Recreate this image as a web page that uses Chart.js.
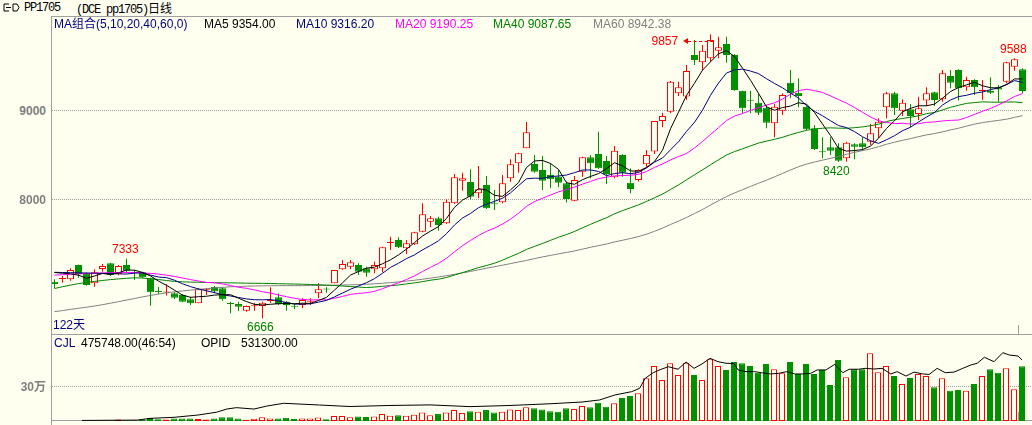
<!DOCTYPE html>
<html><head><meta charset="utf-8">
<script src="https://cdn.jsdelivr.net/npm/chart.js@4.4.0/dist/chart.umd.min.js"></script>
<style>
html,body{margin:0;padding:0;background:#FFFFF0;}
body{width:1032px;height:425px;overflow:hidden;position:relative;font-family:"Liberation Sans","Noto Sans CJK SC",Arial,sans-serif;}
canvas{position:absolute;}
.t{position:absolute;white-space:nowrap;font-size:12px;line-height:14px;}
.ln{position:absolute;background:#A0A0A0;}
.ax{color:#808080;font-weight:bold;text-align:right;width:46px;left:0;}
</style></head><body>
<svg style="position:absolute;left:2px;top:3px" width="18" height="10" viewBox="0 0 18 10"><path d="M7 1 H2 V8 H7 M4 4.5 H9 M11 1 H15 L17 4.5 L15 8 H11 Z" fill="none" stroke="#000" stroke-width="1"/></svg>
<div class="t" style="left:24px;top:1px;font-family:'Liberation Mono',monospace;letter-spacing:-1.2px;">PP1705</div>
<div class="t" style="left:76px;top:1px;font-family:'Liberation Mono',monospace;letter-spacing:-1.2px;">(DCE pp1705)<span style="font-family:'Noto Sans CJK SC';letter-spacing:0">日线</span></div>

<div class="ln" style="left:51px;top:16px;width:981px;height:1px"></div>
<div class="ln" style="left:51px;top:16px;width:1px;height:409px"></div>
<div class="ln" style="left:51px;top:334px;width:981px;height:1px"></div>
<div class="ln" style="left:51px;top:420px;width:981px;height:1px"></div>
<div class="ln" style="left:1018px;top:325px;width:1px;height:9px"></div>
<div class="ln" style="left:1018px;top:412px;width:1px;height:8px"></div>

<canvas id="price" width="980" height="317" style="left:52px;top:17px;width:980px;height:317px"></canvas>
<canvas id="vol" width="980" height="86" style="left:52px;top:335px;width:980px;height:86px"></canvas>

<div class="t" style="left:54px;top:17px;color:#000080">MA组合(5,10,20,40,60,0)</div>
<div class="t" style="left:204px;top:17px;color:#000000">MA5 9354.00</div>
<div class="t" style="left:296px;top:17px;color:#000080">MA10 9316.20</div>
<div class="t" style="left:395px;top:17px;color:#FF00FF">MA20 9190.25</div>
<div class="t" style="left:493px;top:17px;color:#008000">MA40 9087.65</div>
<div class="t" style="left:593px;top:17px;color:#808080">MA60 8942.38</div>

<div class="t" style="left:54px;top:336px;color:#000080">CJL</div>
<div class="t" style="left:81px;top:336px;color:#000">475748.00(46:54)</div>
<div class="t" style="left:201px;top:336px;color:#000">OPID</div>
<div class="t" style="left:241px;top:336px;color:#000">531300.00</div>

<div class="t ax" style="top:104px">9000</div>
<div class="t ax" style="top:193px">8000</div>
<div class="t ax" style="top:380px">30万</div>
<div class="t" style="left:53px;top:318px;color:#000080">122天</div>

<div class="t" id="m0" style="color:#FF0000"></div>
<div class="t" id="m1" style="color:#008000"></div>
<div class="t" id="m2" style="color:#FF0000"></div>
<div class="t" id="m3" style="color:#008000"></div>
<div class="t" id="m4" style="color:#FF0000"></div>
<div id="arrHead" style="position:absolute;width:0;height:0;border-top:3px solid transparent;border-bottom:3px solid transparent;border-right:5px solid #FF0000;"></div>
<div id="arrLine" style="position:absolute;height:0;border-top:1px dashed #FF0000;"></div>

<script>
// ---------------- data ----------------
const openP = [7077,7108,7103,7264,7170,7058,7219,7283,7159,7264,
7180,7182,7114,6970,6955,6946,6927,6878,6833,6980,
7021,7002,6835,6826,6751,6800,6803,6860,6901,6852,
6805,6815,6850,6946,6993,7058,7215,7245,7264,7227,
7215,7227,7510,7545,7451,7496,7639,7751,7788,7732,
7957,8212,8197,8069,8163,7953,7968,8238,8406,8575,
8399,8332,8275,8257,8182,7987,8313,8474,8511,8433,
8249,8500,8189,8219,8395,8538,8882,8987,9193,9156,
9624,9541,9586,9672,9747,9624,9223,9115,9088,9032,
8856,8998,9313,9200,9043,8800,8536,8586,8586,8463,
8620,8631,8650,8800,9036,9193,8998,9013,8961,9111,
9204,9126,9388,9455,9260,9343,9218,9223,9260,9324,
9493,9463];
const highP = [7103,7141,7227,7270,7182,7215,7275,7290,7264,7333,
7208,7189,7122,7021,7047,6957,6938,6908,7002,7002,
7028,7013,6852,6852,6810,6841,6850,7013,6946,6860,
6826,6890,6890,7058,7013,7208,7320,7320,7283,7245,
7302,7470,7582,7575,7545,7639,7957,7815,7807,8002,
8286,8301,8339,8376,8264,8107,8275,8451,8526,8871,
8500,8489,8406,8332,8201,8264,8481,8500,8762,8489,
8601,8508,8350,8339,8556,8882,8976,9332,9324,9511,
9792,9736,9857,9830,9830,9635,9223,9223,9193,9062,
9073,9193,9455,9361,9051,8837,8699,8699,8631,8650,
8631,8699,8848,8912,9212,9212,9126,9073,9155,9260,
9212,9455,9455,9463,9380,9350,9343,9373,9287,9549,
9588,9474];
const lowP = [7002,7066,7088,7122,7032,7021,7189,7141,7148,7170,
7096,7114,6807,6938,6920,6882,6845,6815,6833,6927,
6946,6863,6721,6747,6740,6751,6666,6841,6815,6751,
6766,6777,6815,6890,6953,7058,7210,7215,7152,7133,
7170,7182,7433,7455,7388,7489,7631,7687,7650,7725,
7949,8099,8002,8013,7893,7882,7957,8200,8301,8575,
8301,8107,8126,8137,7965,7980,8257,8238,8343,8174,
8238,8257,8069,8201,8369,8511,8811,8968,9163,9118,
9511,9448,9549,9586,9537,9223,8968,8968,8950,8800,
8699,8950,9137,9036,8781,8556,8463,8500,8420,8425,
8451,8549,8612,8687,8912,8950,8938,8811,8893,9051,
9051,9099,9249,9111,9223,9174,9118,9185,9099,9305,
9448,9193];
const closeP = [7051,7114,7208,7163,7039,7182,7253,7152,7253,7200,
7170,7126,6957,6960,6965,6897,6852,6833,6991,6990,
6965,6878,6825,6796,6803,6808,6841,6866,6826,6815,
6796,6871,6855,6991,6988,7208,7275,7294,7189,7178,
7264,7463,7515,7463,7508,7631,7833,7788,7714,7976,
8249,8238,8032,8114,7901,7948,8182,8395,8519,8755,
8313,8212,8227,8189,8006,8219,8474,8406,8350,8287,
8549,8302,8118,8332,8500,8882,8938,9324,9260,9444,
9567,9672,9792,9710,9624,9230,9024,9110,8976,8863,
9043,9174,9193,9163,8788,8567,8530,8549,8436,8639,
8594,8586,8744,8875,9193,9024,9088,8938,9024,9193,
9118,9418,9313,9249,9343,9260,9226,9200,9235,9541,
9575,9220];

const ma5 = [7180,7172,7165,7150,7115,7141,7169,7158,7176,7208,
7206,7180,7141,7083,7036,6981,6926,6901,6908,6913,
6926,6931,6930,6891,6853,6822,6815,6823,6829,6831,
6829,6835,6833,6866,6900,6983,7063,7151,7191,7229,
7240,7278,7322,7377,7443,7516,7590,7645,7695,7788,
7912,7993,8042,8122,8107,8047,8035,8108,8189,8360,
8433,8439,8405,8339,8189,8171,8223,8259,8291,8347,
8413,8379,8321,8318,8360,8427,8554,8795,8981,9170,
9307,9453,9547,9637,9673,9606,9476,9340,9193,9041,
9003,9033,9050,9087,9072,8977,8848,8719,8574,8544,
8550,8561,8600,8688,8798,8884,8985,9024,9053,9053,
9072,9138,9213,9258,9288,9317,9278,9256,9253,9292,
9355,9354];
const ma10 = [7182,7180,7178,7176,7174,7172,7170,7168,7165,7162,
7173,7175,7150,7129,7122,7093,7053,7021,6995,6974,
6954,6929,6916,6899,6883,6874,6873,6876,6860,6842,
6825,6825,6828,6847,6866,6906,6949,6992,7028,7065,
7111,7171,7237,7284,7336,7378,7434,7483,7536,7616,
7714,7792,7843,7908,7948,7979,8014,8075,8155,8233,
8240,8237,8257,8264,8275,8302,8331,8332,8315,8268,
8292,8301,8290,8304,8354,8420,8466,8558,8649,8765,
8867,9004,9171,9309,9421,9456,9465,9443,9415,9357,
9304,9255,9195,9140,9056,8990,8941,8885,8831,8808,
8763,8705,8660,8631,8671,8717,8773,8812,8871,8926,
8978,9062,9118,9156,9171,9194,9208,9234,9256,9290,
9336,9316];
const ma20 = [7150,7155,7160,7164,7168,7172,7175,7178,7180,7181,
7180,7176,7170,7162,7150,7135,7118,7100,7084,7068,
7064,7052,7033,7014,7002,6984,6963,6949,6927,6908,
6890,6877,6872,6873,6874,6890,6911,6934,6944,6953,
6968,6998,7032,7065,7101,7142,7191,7238,7282,7340,
7413,7481,7540,7596,7642,7679,7724,7779,7846,7924,
7977,8014,8050,8086,8111,8141,8173,8203,8235,8251,
8266,8269,8273,8284,8314,8361,8399,8445,8482,8517,
8579,8652,8731,8807,8888,8938,8966,9001,9032,9061,
9086,9129,9183,9224,9239,9223,9203,9164,9123,9083,
9034,8980,8927,8885,8864,8854,8857,8848,8851,8867,
8871,8883,8889,8893,8921,8956,8991,9023,9063,9108,
9157,9190];
const ma40 = [7000,7020,7038,7055,7068,7080,7090,7100,7108,7115,
7120,7118,7110,7100,7090,7080,7075,7072,7070,7068,
7066,7064,7063,7062,7060,7059,7058,7056,7054,7052,
7050,7048,7045,7042,7038,7034,7028,7022,7016,7011,
7016,7025,7032,7040,7052,7063,7077,7093,7105,7124,
7151,7179,7206,7235,7258,7284,7318,7357,7395,7439,
7473,7506,7541,7576,7606,7641,7682,7721,7759,7795,
7839,7875,7907,7940,7978,8020,8061,8112,8164,8221,
8278,8333,8390,8446,8499,8539,8569,8602,8634,8656,
8676,8699,8728,8754,8777,8792,8801,8805,8802,8800,
8807,8816,8829,8846,8876,8896,8911,8924,8941,8964,
8978,9006,9036,9059,9080,9089,9097,9094,9093,9095,
9096,9088];
const ma60 = [6740,6752,6765,6778,6790,6803,6818,6835,6852,6870,
6888,6906,6922,6937,6951,6963,6973,6982,6990,6998,
7006,7013,7019,7023,7026,7028,7030,7031,7032,7032,
7032,7032,7033,7034,7035,7037,7039,7041,7044,7048,
7053,7059,7066,7074,7083,7093,7104,7116,7130,7144,
7159,7175,7192,7210,7228,7245,7262,7280,7298,7315,
7336,7355,7372,7389,7405,7422,7442,7463,7482,7500,
7523,7542,7562,7584,7610,7643,7678,7719,7757,7798,
7842,7888,7938,7986,8033,8073,8110,8147,8183,8217,
8255,8293,8332,8368,8398,8421,8442,8463,8483,8508,
8530,8549,8569,8593,8621,8644,8665,8684,8706,8726,
8741,8760,8782,8801,8825,8847,8864,8877,8889,8902,
8923,8942];

const volume = [0,0,0,0,0,0,0,0,13000,4000,
4000,15000,26000,15000,12000,22000,22000,22000,17000,12000,
22000,33000,33000,22000,10000,20000,33000,22000,22000,28000,
18000,22000,22000,30000,15000,43000,43000,33000,40000,35000,
40000,60000,45000,50000,45000,55000,75000,50000,60000,75000,
95000,70000,85000,80000,95000,75000,80000,100000,95000,120000,
110000,100000,85000,80000,110000,105000,130000,120000,159000,124000,
154000,200000,217000,241000,371000,478000,357000,502000,400000,502000,
400000,357000,537000,478000,444000,513000,502000,478000,420000,496000,
450000,415000,513000,409000,496000,409000,444000,313000,531000,380000,
450000,450000,589000,423000,478000,391000,322000,374000,409000,391000,
293000,371000,264000,270000,264000,322000,391000,450000,420000,458000,
276000,475748];

const opidX = [3.5,10.5,12,15,18,20.3,21.6,22.8,25,26.6,28.7,33.2,35.8,37,
42,47,52,57,62,66,68.2,70.1,72.2,73.2,73.9,74.9,75.9,76.8,78,79,80,81,82,83,84,85,
85.5,86.5,87.6,88.4,89.6,90.6,91.6,92.6,93.6,94.6,95.4,96.5,97.6,98.6,99.4,100.6,101.4,
102.5,103.5,104.6,105.4,106.5,107.5,108.6,109.4,110.4,111.4,112.5,113.6,114.6,115.4,
116.3,117.5,118.6,119.4,120.5,121];
const opidV = [5000,8000,23000,32000,52000,76000,104000,116000,104000,130000,154000,139000,130000,126000,
135000,140000,125000,135000,150000,165000,183000,226000,255000,284000,371000,420000,450000,472000,450000,513000,458000,496000,545000,516000,502000,500000,
444000,429000,429000,420000,409000,415000,429000,409000,409000,415000,444000,444000,493000,420000,450000,450000,458000,
452000,458000,409000,429000,391000,425000,409000,405000,458000,420000,425000,458000,487000,502000,
554000,516000,594000,574000,565000,531300];

const priceGrid = [8000, 9000];
const volGrid = [300000];
const markIdx = [9, 26, 82, 98, 120];
const markVal = [7333, 6666, 9857, 8420, 9588];
const markPos = ['above', 'below', 'left', 'below', 'above'];

// ---------------- chart ----------------
const BG = '#FFFFF0', RED = '#FF0000', GRN = '#009000';
const idx = closeP.map((_, i) => i);
const up = idx.map(i => closeP[i] >= openP[i]);
const doji = idx.map(i => Math.abs(closeP[i] - openP[i]) < 20);
const line = (arr, color) => ({type:'line', data: idx.map(i => ({x:i, y:arr[i]})), borderColor: color,
  borderWidth: 1, pointRadius: 0, tension: 0, order: 1, fill: false});

const gridScale = (min, max, ticks) => ({
  min, max, display: true,
  afterBuildTicks: s => { s.ticks = ticks.map(v => ({value: v})); },
  afterFit: s => { s.width = 0; },
  ticks: {display: false},
  grid: {drawTicks: false, color: '#A0A0A0', lineWidth: 1},
  border: {display: false, dash: [1, 1]}
});
const xScale = (min, max) => ({type: 'linear', min, max, display: false, offset: false, grid: {offset: false}});

const markers = {
  id: 'markers',
  afterRender(chart) {
    if (chart.$placed) return; chart.$placed = true;
    const xs = chart.scales.x, ys = chart.scales.y;
    const ox = chart.canvas.offsetLeft, oy = chart.canvas.offsetTop;
    markIdx.forEach((k, j) => {
      const el = document.getElementById('m' + j);
      el.textContent = String(markVal[j]);
      const px = ox + xs.getPixelForValue(k), py = oy + ys.getPixelForValue(markVal[j]);
      const w = el.offsetWidth;
      if (markPos[j] === 'above') { el.style.left = (px - w / 2 - 1) + 'px'; el.style.top = (py - 9.5 - 7) + 'px'; }
      else if (markPos[j] === 'below') { el.style.left = (px - w / 2 - 2) + 'px'; el.style.top = (py + 8.5 - 7) + 'px'; }
      else {
        const cy = py + 7;
        el.style.left = (px - 32 - w) + 'px'; el.style.top = (cy - 7) + 'px';
        const ah = document.getElementById('arrHead');
        ah.style.left = (px - 28) + 'px'; ah.style.top = (Math.round(cy) - 3) + 'px';
        const al = document.getElementById('arrLine');
        al.style.left = (px - 23) + 'px'; al.style.width = '25px'; al.style.top = Math.round(cy) + 'px';
      }
    });
  }
};

new Chart(document.getElementById('price'), {
  data: {
    datasets: [
      line(ma5, '#000000'), line(ma10, '#000080'), line(ma20, '#FF00FF'), line(ma40, '#008000'), line(ma60, '#808080'),
      {type: 'bar', order: 2, grouped: false, barThickness: 7, borderWidth: 1, borderSkipped: false, inflateAmount: 0, minBarLength: 1,
        data: idx.map(i => ({x: i, y: [openP[i], closeP[i]]})),
        backgroundColor: idx.map(i => up[i] ? (doji[i] ? RED : BG) : GRN),
        borderColor: idx.map(i => up[i] ? RED : GRN)},
      {type: 'bar', order: 3, grouped: false, barThickness: 1, borderWidth: 0, inflateAmount: 0,
        data: idx.map(i => ({x: i, y: [lowP[i], highP[i]]})),
        backgroundColor: idx.map(i => up[i] ? RED : GRN)}
    ]
  },
  options: {
    responsive: false, animation: false, devicePixelRatio: 1, events: [],
    layout: {padding: 0},
    plugins: {legend: {display: false}, tooltip: {enabled: false}},
    scales: {
      x: xScale(-0.3125, 122.1875),
      y: gridScale(6488.8, 10050.6, priceGrid)
    }
  },
  plugins: [markers]
});

new Chart(document.getElementById('vol'), {
  data: {
    datasets: [
      {type: 'line', order: 1, data: opidX.map((x, j) => ({x, y: opidV[j]})), borderColor: '#000000', borderWidth: 1, pointRadius: 0, tension: 0},
      {type: 'bar', order: 2, grouped: false, barThickness: 6, borderWidth: 1, borderSkipped: false, inflateAmount: 0,
        data: idx.map(i => ({x: i, y: volume[i]})),
        backgroundColor: idx.map(i => up[i] ? BG : GRN),
        borderColor: idx.map(i => up[i] ? RED : GRN)}
    ]
  },
  options: {
    responsive: false, animation: false, devicePixelRatio: 1, events: [],
    layout: {padding: 0},
    plugins: {legend: {display: false}, tooltip: {enabled: false}},
    scales: {
      x: xScale(-0.25, 122.25),
      y: gridScale(0, 747826, volGrid)
    }
  }
});
</script>
</body></html>
